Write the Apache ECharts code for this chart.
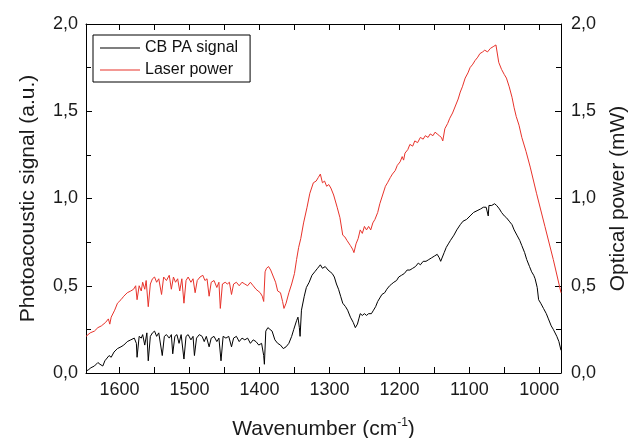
<!DOCTYPE html>
<html>
<head>
<meta charset="utf-8">
<title>CB PA signal</title>
<script src="https://cdn.jsdelivr.net/npm/echarts@6/dist/echarts.min.js"></script>
<style>
  html, body { margin: 0; padding: 0; background: #fff; }
  #main { width: 634px; height: 438px; }
</style>
</head>
<body>
<div id="main"></div>
<script>
// wavenumber (cm-1) / value pairs
var paSignal = [
  [1648,0.01],[1644,0.02],[1641,0.03],[1636,0.04],[1631,0.06],[1628,0.05],[1624,0.04],[1621,0.07],[1619,0.08],[1615,0.10],
  [1612,0.09],[1608,0.12],[1603,0.14],[1598,0.15],[1594,0.16],[1589,0.18],[1584,0.19],[1579,0.20],[1576,0.17],[1575,0.09],
  [1572,0.21],[1569,0.20],[1567,0.22],[1564,0.16],[1561,0.23],[1559,0.07],[1556,0.21],[1553,0.23],[1550,0.24],[1547,0.21],
  [1544,0.23],[1539,0.10],[1536,0.21],[1533,0.22],[1529,0.20],[1526,0.22],[1524,0.11],[1521,0.21],[1518,0.22],[1515,0.17],
  [1512,0.22],[1508,0.08],[1505,0.21],[1502,0.22],[1498,0.19],[1495,0.21],[1493,0.10],[1490,0.20],[1486,0.22],[1482,0.21],
  [1479,0.18],[1476,0.21],[1472,0.15],[1469,0.20],[1465,0.21],[1461,0.18],[1458,0.20],[1455,0.07],[1452,0.21],[1448,0.20],
  [1444,0.21],[1440,0.15],[1437,0.20],[1433,0.21],[1429,0.18],[1425,0.20],[1421,0.19],[1417,0.20],[1413,0.17],[1409,0.19],
  [1405,0.18],[1401,0.16],[1397,0.17],[1394,0.10],[1393,0.05],[1391,0.24],[1388,0.26],[1385,0.25],[1382,0.24],[1378,0.19],
  [1374,0.17],[1370,0.16],[1366,0.14],[1362,0.15],[1358,0.17],[1354,0.21],[1351,0.25],[1347,0.30],[1345,0.32],[1343,0.26],
  [1342,0.21],[1340,0.36],[1336,0.44],[1333,0.49],[1329,0.52],[1325,0.56],[1321,0.58],[1317,0.60],[1313,0.62],[1310,0.60],
  [1306,0.61],[1302,0.59],[1299,0.58],[1296,0.57],[1293,0.55],[1290,0.51],[1287,0.48],[1284,0.44],[1281,0.40],[1277,0.38],
  [1274,0.36],[1270,0.32],[1266,0.29],[1263,0.26],[1260,0.28],[1258,0.31],[1256,0.34],[1253,0.33],[1250,0.34],[1247,0.33],
  [1244,0.34],[1240,0.34],[1237,0.36],[1234,0.38],[1231,0.41],[1228,0.43],[1225,0.45],[1221,0.46],[1218,0.48],[1214,0.50],
  [1211,0.51],[1208,0.52],[1204,0.53],[1201,0.55],[1197,0.56],[1193,0.57],[1189,0.59],[1185,0.59],[1181,0.60],[1177,0.61],
  [1173,0.63],[1170,0.62],[1166,0.64],[1162,0.64],[1158,0.65],[1154,0.66],[1150,0.67],[1146,0.68],[1143,0.66],[1141,0.64],
  [1139,0.63],[1136,0.69],[1133,0.72],[1130,0.74],[1127,0.76],[1122,0.79],[1118,0.82],[1113,0.85],[1109,0.87],[1104,0.88],
  [1099,0.90],[1094,0.92],[1089,0.93],[1084,0.94],[1080,0.95],[1076,0.95],[1074,0.96],[1073,0.90],[1072,0.96],[1068,0.96],
  [1064,0.97],[1061,0.96],[1057,0.94],[1054,0.92],[1050,0.90],[1047,0.89],[1043,0.87],[1039,0.85],[1036,0.82],[1032,0.79],
  [1028,0.76],[1025,0.73],[1021,0.69],[1018,0.65],[1014,0.61],[1011,0.58],[1008,0.56],[1006,0.54],[1003,0.49],[1001,0.42],
  [998,0.40],[994,0.37],[990,0.34],[987,0.31],[983,0.27],[980,0.25],[975,0.21],[972,0.18],[969,0.13]
];

var laserPower = [
  [1648,0.21],[1642,0.23],[1636,0.24],[1631,0.26],[1626,0.27],[1620,0.29],[1616,0.31],[1614,0.28],[1612,0.32],[1607,0.36],
  [1603,0.40],[1598,0.42],[1594,0.44],[1589,0.46],[1584,0.47],[1580,0.48],[1577,0.50],[1575,0.42],[1572,0.50],[1569,0.47],
  [1567,0.52],[1564,0.48],[1562,0.53],[1559,0.38],[1556,0.51],[1553,0.54],[1550,0.55],[1547,0.52],[1544,0.54],[1540,0.45],
  [1537,0.55],[1533,0.53],[1529,0.56],[1526,0.48],[1523,0.55],[1520,0.52],[1517,0.54],[1514,0.47],[1511,0.54],[1508,0.40],
  [1505,0.53],[1502,0.55],[1498,0.52],[1495,0.54],[1492,0.46],[1489,0.53],[1485,0.55],[1481,0.56],[1478,0.53],[1475,0.54],
  [1472,0.44],[1469,0.52],[1465,0.53],[1461,0.49],[1458,0.52],[1456,0.37],[1453,0.51],[1449,0.52],[1446,0.51],[1443,0.52],
  [1440,0.45],[1437,0.51],[1433,0.52],[1429,0.50],[1425,0.52],[1421,0.51],[1417,0.50],[1413,0.52],[1409,0.50],[1405,0.48],
  [1402,0.47],[1399,0.46],[1396,0.44],[1394,0.41],[1392,0.58],[1390,0.60],[1387,0.61],[1384,0.59],[1380,0.55],[1377,0.52],
  [1374,0.47],[1370,0.46],[1367,0.41],[1365,0.37],[1362,0.40],[1358,0.46],[1354,0.51],[1350,0.57],[1347,0.65],[1344,0.72],
  [1341,0.77],[1337,0.86],[1332,0.95],[1328,1.03],[1323,1.09],[1319,1.10],[1316,1.12],[1313,1.14],[1310,1.09],[1307,1.10],
  [1304,1.07],[1301,1.08],[1298,1.06],[1294,1.02],[1289,0.95],[1285,0.89],[1281,0.79],[1278,0.78],[1275,0.76],[1270,0.73],
  [1267,0.71],[1265,0.69],[1262,0.74],[1259,0.77],[1256,0.82],[1253,0.80],[1250,0.84],[1247,0.82],[1244,0.84],[1241,0.82],
  [1238,0.86],[1235,0.88],[1231,0.92],[1228,0.97],[1226,0.96],[1224,1.02],[1222,1.01],[1220,1.07],[1217,1.09],[1215,1.08],
  [1213,1.12],[1210,1.14],[1208,1.13],[1206,1.16],[1203,1.19],[1201,1.18],[1199,1.21],[1196,1.24],[1194,1.22],[1192,1.26],
  [1188,1.28],[1186,1.27],[1185,1.31],[1181,1.30],[1178,1.33],[1174,1.32],[1170,1.35],[1166,1.34],[1163,1.36],[1159,1.35],
  [1156,1.37],[1152,1.36],[1149,1.38],[1146,1.37],[1143,1.36],[1140,1.35],[1138,1.33],[1135,1.40],[1131,1.43],[1128,1.46],
  [1124,1.49],[1120,1.53],[1116,1.57],[1113,1.61],[1110,1.64],[1106,1.69],[1102,1.72],[1099,1.75],[1095,1.77],[1092,1.79],
  [1088,1.81],[1085,1.83],[1081,1.84],[1078,1.85],[1074,1.84],[1070,1.86],[1066,1.87],[1062,1.88],[1060,1.88],[1058,1.78],
  [1054,1.74],[1050,1.71],[1047,1.69],[1043,1.64],[1039,1.58],[1036,1.52],[1033,1.47],[1029,1.42],[1025,1.35],[1019,1.27],
  [1013,1.18],[1004,1.03],[992,0.84],[980,0.65],[969,0.46]
];

var xTickLabels = [1000, 1100, 1200, 1300, 1400, 1500, 1600];
var xTicks = [1000, 1050, 1100, 1150, 1200, 1250, 1300, 1350, 1400, 1450, 1500, 1550, 1600];
var seriesNames = ['CB PA signal', 'Laser power'];

var font = 'Liberation Sans, Arial, sans-serif';
var chart = echarts.init(document.getElementById('main'), null, { renderer: 'canvas' });

function comma(v) {
  return v.toFixed(1).replace('.', ',');
}

var xBase = {
  type: 'value',
  inverse: true,
  min: 969,
  max: 1648,
  axisLine: { show: true, onZero: false, lineStyle: { color: '#000', width: 1 } },
  axisTick: { show: true, inside: true, length: 6, customValues: xTicks, lineStyle: { color: '#000' } },
  splitLine: { show: false }
};

var yBase = {
  type: 'value',
  min: 0,
  max: 2,
  interval: 0.5,
  axisLine: { show: true, lineStyle: { color: '#000', width: 1 } },
  axisTick: { show: true, inside: true, length: 6, lineStyle: { color: '#000' } },
  minorTick: { show: true, splitNumber: 2, length: 5, lineStyle: { color: '#000' } },
  splitLine: { show: false },
  nameLocation: 'middle',
  nameGap: 47,
  nameTextStyle: { fontFamily: font, fontSize: 21, color: '#1a1a1a' }
};

var option = {
  backgroundColor: '#fff',
  animation: false,
  grid: { left: 86, right: 73, top: 24, bottom: 65, containLabel: false, outerBoundsMode: 'none' },
  legend: {
    data: seriesNames,
    orient: 'vertical',
    left: 93,
    top: 35,
    padding: [4, 12, 3, 7],
    itemGap: 4,
    icon: 'rect',
    itemWidth: 40,
    itemHeight: 1,
    borderColor: '#000',
    borderWidth: 1,
    textStyle: { fontFamily: font, fontSize: 16, color: '#111', lineHeight: 18 }
  },
  xAxis: [
    Object.assign({}, xBase, {
      position: 'bottom',
      name: 'Wavenumber (cm{sup|-1})',
      nameLocation: 'middle',
      nameGap: 44,
      nameTextStyle: {
        fontFamily: font, fontSize: 21, color: '#1a1a1a', lineHeight: 24,
        rich: { sup: { fontFamily: font, fontSize: 12, verticalAlign: 'top', lineHeight: 24, color: '#1a1a1a' } }
      },
      axisLabel: {
        show: true, margin: 8, customValues: xTickLabels,
        formatter: function (v) { return String(v); },
        fontFamily: font, fontSize: 18, color: '#1a1a1a'
      }
    }),
    Object.assign({}, xBase, {
      position: 'top',
      axisLabel: { show: false }
    })
  ],
  yAxis: [
    Object.assign({}, yBase, {
      position: 'left',
      name: 'Photoacoustic signal (a.u.)',
      axisLabel: { margin: 8, formatter: comma, fontFamily: font, fontSize: 18, color: '#1a1a1a' }
    }),
    Object.assign({}, yBase, {
      position: 'right',
      name: 'Optical power (mW)',
      axisLabel: { margin: 10, formatter: comma, fontFamily: font, fontSize: 18, color: '#1a1a1a' }
    })
  ],
  series: [
    {
      name: seriesNames[0],
      type: 'line',
      xAxisIndex: 0,
      yAxisIndex: 0,
      data: paSignal,
      symbol: 'none',
      color: '#000',
      lineStyle: { color: '#000', width: 1 }
    },
    {
      name: seriesNames[1],
      type: 'line',
      xAxisIndex: 0,
      yAxisIndex: 1,
      data: laserPower,
      symbol: 'none',
      color: '#e8332b',
      lineStyle: { color: '#e8332b', width: 1 }
    }
  ]
};

chart.setOption(option);
</script>
</body>
</html>
